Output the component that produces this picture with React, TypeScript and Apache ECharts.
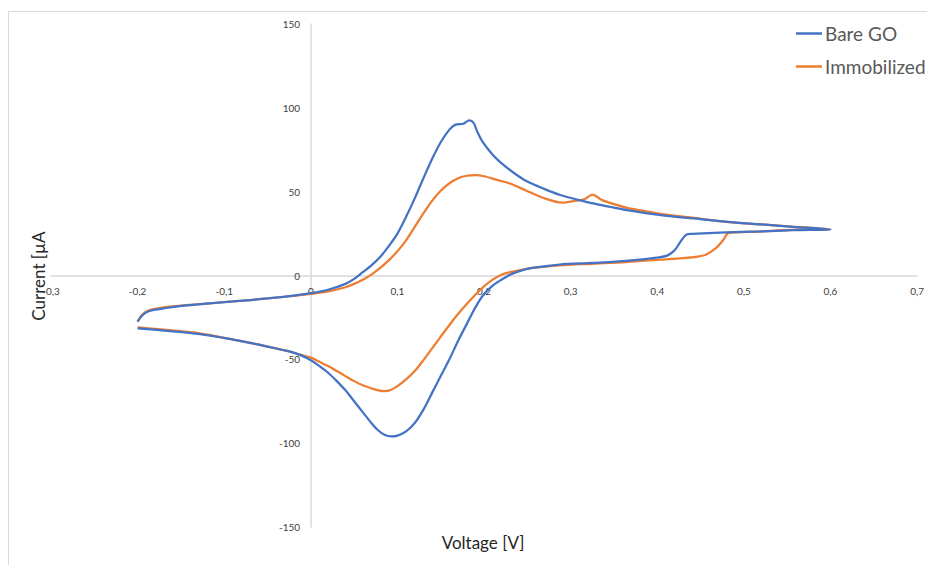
import React, { useEffect, useRef } from "react";
import * as echarts from "echarts";

const seriesNames = ["Bare GO", "Immobilized"];
const seriesColors = ["#4472C4", "#ED7D31"];

const xTickMin = -0.3;
const xTickMax = 0.7;
const xTickStep = 0.1;
const yTickMin = -150;
const yTickMax = 150;
const yTickStep = 50;

const xTitle = "Voltage [V]";
const yTitle = "Current [µA";

// Bare GO: forward (anodic) scan then reverse (cathodic) scan, [V, µA]
const bareForward: number[][] = [
  [-0.2, -27.5], [-0.195, -24], [-0.188, -21.5], [-0.175, -20], [-0.16, -18.8],
  [-0.13, -17.2], [-0.09, -15.5], [-0.05, -13.7], [-0.02, -12], [0, -10.5],
  [0.02, -8.5], [0.04, -5], [0.05, -2], [0.06, 2], [0.07, 6], [0.08, 11],
  [0.09, 17.5], [0.1, 25], [0.11, 35], [0.12, 46], [0.13, 58], [0.14, 69.5],
  [0.15, 79.5], [0.16, 87], [0.167, 90], [0.176, 90.5], [0.183, 92.5], [0.188, 91],
  [0.192, 86], [0.198, 80], [0.21, 72], [0.22, 67], [0.235, 61], [0.25, 56],
  [0.27, 51.5], [0.288, 48], [0.31, 45], [0.326, 43], [0.345, 41], [0.365, 39],
  [0.404, 36], [0.442, 34], [0.481, 32], [0.519, 30.5], [0.557, 29], [0.6, 27.5],
];
const bareReverse: number[][] = [
  [0.557, 27], [0.519, 26.3], [0.479, 25.7], [0.44, 24.8], [0.434, 24.5],
  [0.428, 21], [0.42, 15], [0.412, 12], [0.402, 10.8], [0.364, 8.7], [0.325, 7.5],
  [0.287, 6.5], [0.256, 4.5], [0.24, 2.5], [0.23, 0.5], [0.22, -2.5], [0.21, -6],
  [0.2, -11], [0.19, -19], [0.18, -29], [0.17, -39], [0.16, -50], [0.15, -60],
  [0.14, -70], [0.13, -80], [0.12, -88], [0.11, -93], [0.1, -95.5], [0.093, -96],
  [0.085, -95], [0.077, -92], [0.07, -88], [0.06, -81.5], [0.05, -75], [0.04, -68.5],
  [0.03, -63], [0.02, -58], [0.01, -54], [0, -50.5], [-0.012, -47.5],
  [-0.025, -45.3], [-0.05, -42.4], [-0.07, -40.2], [-0.09, -38.2], [-0.128, -35],
  [-0.166, -33], [-0.2, -31.5],
];

// Immobilized: forward then reverse scan, [V, µA]
const immForward: number[][] = [
  [-0.2, -27.5], [-0.195, -23.5], [-0.188, -21], [-0.175, -19.5], [-0.166, -18.7],
  [-0.128, -17], [-0.09, -15.5], [-0.05, -13.7], [-0.02, -12.2], [0, -11],
  [0.02, -9.5], [0.04, -7], [0.05, -5], [0.06, -2.5], [0.07, 0.5], [0.08, 4.5],
  [0.09, 9], [0.1, 14.5], [0.11, 21], [0.12, 29], [0.13, 37], [0.14, 44.5],
  [0.15, 50.5], [0.16, 55], [0.17, 58], [0.18, 59.5], [0.19, 59.8], [0.2, 59.2],
  [0.215, 57], [0.229, 55], [0.249, 50.6], [0.267, 46.5], [0.29, 43.5],
  [0.306, 44.6], [0.316, 45.5], [0.325, 48.2], [0.337, 44.8], [0.364, 40.5],
  [0.376, 39.3], [0.402, 36.9], [0.44, 34.5], [0.479, 32], [0.517, 30.6],
  [0.555, 29.2], [0.6, 27.5],
];
const immReverse: number[][] = [
  [0.555, 27.2], [0.517, 26.2], [0.486, 25.6], [0.481, 25], [0.476, 21],
  [0.467, 16], [0.456, 12.4], [0.44, 10.8], [0.402, 9.4], [0.364, 8], [0.325, 7],
  [0.287, 6], [0.256, 4.5], [0.24, 3], [0.23, 2], [0.22, 0.5], [0.21, -2.5],
  [0.2, -6.5], [0.19, -11.5], [0.18, -17], [0.17, -23], [0.16, -29.5],
  [0.15, -36.5], [0.14, -43.5], [0.13, -50.5], [0.12, -57], [0.11, -62],
  [0.1, -66], [0.092, -68.3], [0.085, -69], [0.078, -68.5], [0.07, -67.3],
  [0.06, -65.5], [0.05, -63], [0.04, -60], [0.03, -57], [0.02, -54], [0.01, -51.5],
  [0, -49], [-0.012, -47.2], [-0.025, -45.3], [-0.05, -42.4], [-0.07, -40.2],
  [-0.09, -38.2], [-0.128, -34.5], [-0.166, -32.5], [-0.2, -31],
];

const seriesData = [
  [...bareForward, ...bareReverse],
  [...immForward, ...immReverse],
];

const FONT = "Lato, 'Open Sans', sans-serif";

const GRID_LEFT = 51;
const GRID_RIGHT = 9;
const GRID_TOP = 24;
const GRID_BOTTOM = 38;
const W = 927;
const H = 565;

export default function App() {
  const ref = useRef<HTMLDivElement>(null);

  useEffect(() => {
    if (!ref.current) return;
    const chart = echarts.init(ref.current, null, { renderer: "svg" });
    const fmt = (v: number) => String(Number(v.toFixed(2))).replace(".", ",");
    const plotW = W - GRID_LEFT - GRID_RIGHT;
    const plotH = H - GRID_TOP - GRID_BOTTOM;
    // move axes to cross at zero (labels included)
    const yAxisOffset = -((0 - xTickMin) / (xTickMax - xTickMin)) * plotW;
    const xAxisOffset = -((0 - yTickMin) / (yTickMax - yTickMin)) * plotH;
    chart.setOption({
      animation: false,
      backgroundColor: "#ffffff",
      grid: { left: GRID_LEFT, right: GRID_RIGHT, top: GRID_TOP, bottom: GRID_BOTTOM, containLabel: false },
      legend: {
        data: seriesNames.map((n) => ({ name: n, icon: "rect" })),
        orient: "vertical",
        left: 796,
        top: 23,
        itemWidth: 26,
        itemHeight: 2.5,
        itemGap: 12,
        textStyle: {
          fontFamily: FONT,
          fontSize: 19,
          color: "#595959",
          lineHeight: 21,
          padding: [0, 0, 0, -2],
        },
        padding: 0,
      },
      xAxis: {
        type: "value",
        min: xTickMin,
        max: xTickMax,
        interval: xTickStep,
        position: "bottom",
        offset: xAxisOffset,
        axisLine: { onZero: false, lineStyle: { color: "#d9d9d9", width: 1.5 } },
        axisTick: { show: false },
        splitLine: { show: false },
        axisLabel: {
          formatter: fmt,
          fontFamily: FONT,
          fontSize: 10,
          color: "#404040",
          margin: 10,
        },
      },
      yAxis: {
        type: "value",
        min: yTickMin,
        max: yTickMax,
        interval: yTickStep,
        position: "left",
        offset: yAxisOffset,
        axisLine: { show: true, onZero: false, lineStyle: { color: "#d9d9d9", width: 1.5 } },
        axisTick: { show: false },
        splitLine: { show: false },
        axisLabel: {
          formatter: (v: number) => String(v),
          fontFamily: FONT,
          fontSize: 10,
          color: "#404040",
          margin: 11,
        },
      },
      graphic: [
        {
          type: "rect",
          shape: { x: 8.5, y: 11.5, width: 1200, height: 1200 },
          style: { fill: "none", stroke: "#d9d9d9", lineWidth: 1 },
          silent: true,
          z: -10,
        },
        {
          type: "text",
          x: 483,
          y: 542,
          style: {
            text: xTitle,
            fontFamily: FONT,
            fontSize: 17,
            fill: "#262626",
            align: "center",
            verticalAlign: "middle",
          },
        },
        {
          type: "text",
          x: 38,
          y: 276,
          rotation: Math.PI / 2,
          style: {
            text: yTitle,
            fontFamily: FONT,
            fontSize: 17,
            fill: "#262626",
            align: "center",
            verticalAlign: "middle",
          },
        },
      ],
      series: seriesNames.map((name, i) => ({
        name,
        type: "line",
        data: seriesData[i],
        showSymbol: false,
        smooth: 0.3,
        lineStyle: { color: seriesColors[i], width: 2.25 },
        itemStyle: { color: seriesColors[i] },
        z: i === 0 ? 3 : 2,
      })),
    });
    return () => chart.dispose();
  }, []);

  return (
    <div
      ref={ref}
      style={{ position: "fixed", left: 0, top: 0, width: W, height: H }}
    />
  );
}
